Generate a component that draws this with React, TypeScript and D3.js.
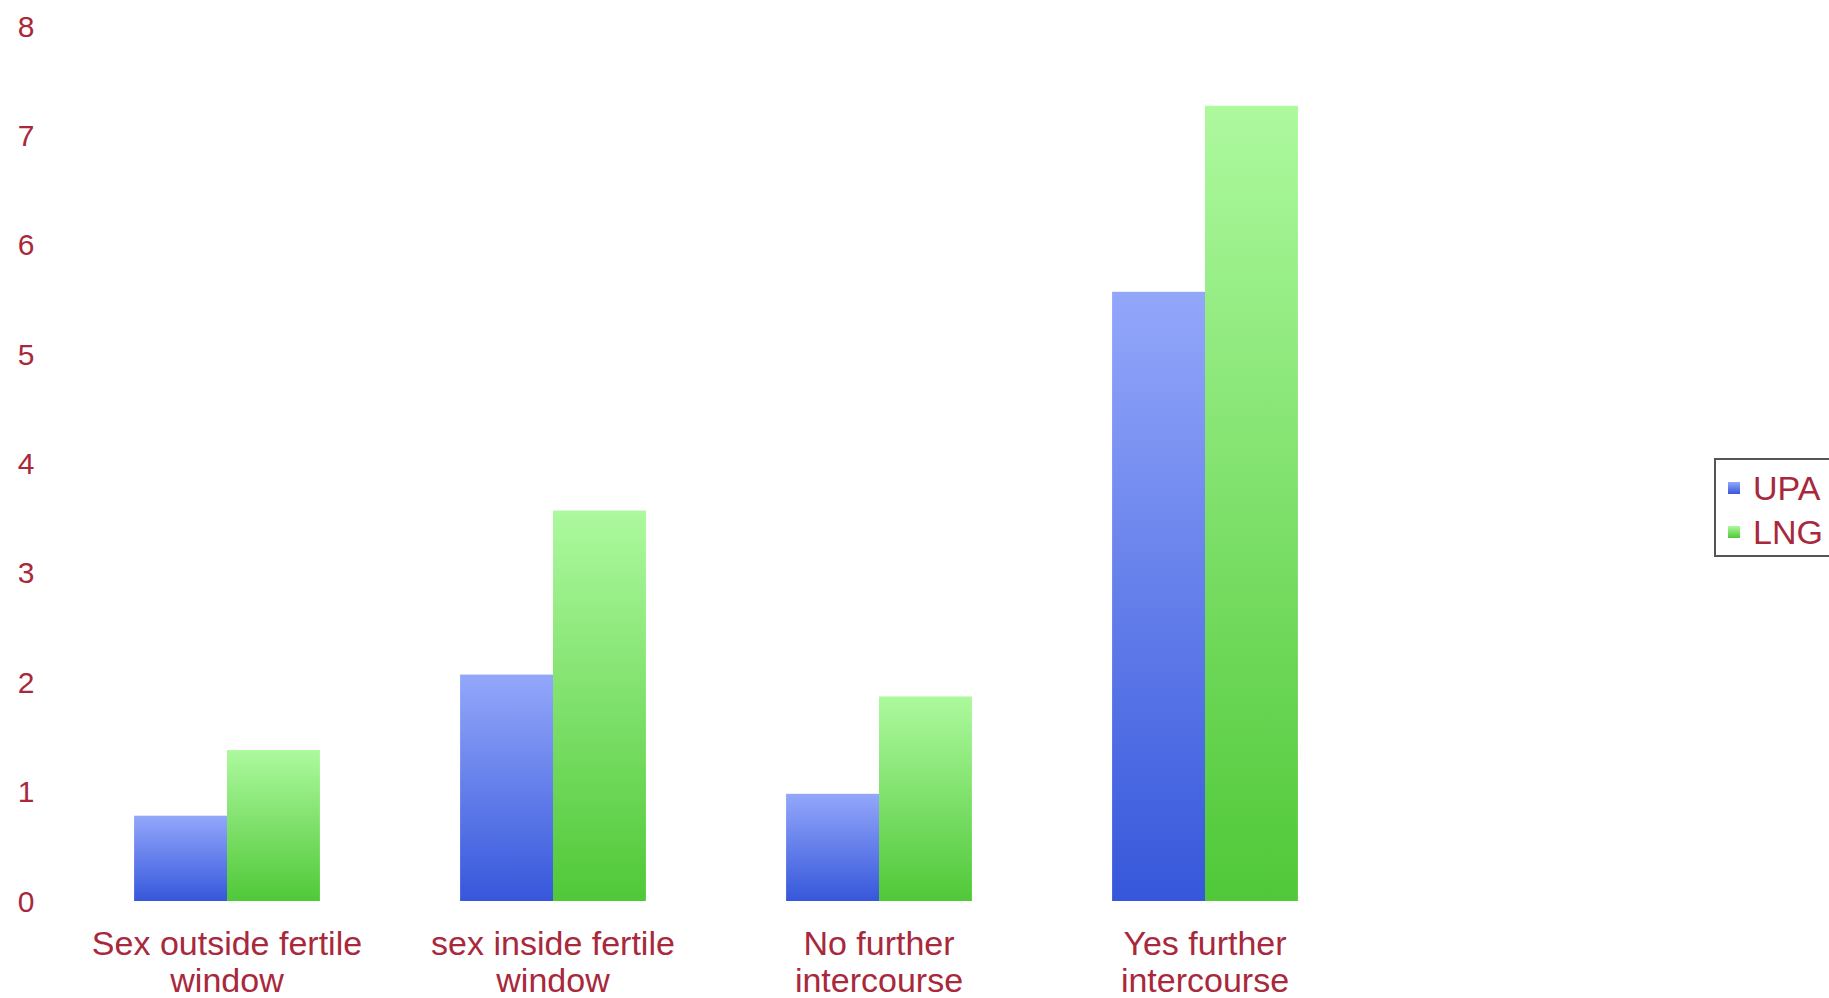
import React from 'react';
import * as d3 from 'd3';

const categories = [
  ['Sex outside fertile', 'window'],
  ['sex inside fertile', 'window'],
  ['No further', 'intercourse'],
  ['Yes further', 'intercourse'],
];
const seriesNames = ['UPA', 'LNG'];
const upaValues = [0.78, 2.07, 0.98, 5.57];
const lngValues = [1.38, 3.57, 1.87, 7.27];
const yTicks = [0, 1, 2, 3, 4, 5, 6, 7, 8];

const width = 1829;
const height = 998;
const textColor = '#a8283c';
const font = '"Liberation Sans", Arial, sans-serif';

const App: React.FC = () => {
  const x = d3.scaleBand<number>()
    .domain(categories.map((_, i) => i))
    .range([64, 1368])
    .paddingInner(0.43)
    .paddingOuter(0.215);

  const xInner = d3.scaleBand<string>()
    .domain(seriesNames)
    .range([0, x.bandwidth()]);

  const y = d3.scaleLinear()
    .domain([0, 8])
    .range([901, 26]);

  const values: Record<string, number[]> = { UPA: upaValues, LNG: lngValues };

  return (
    <svg
      width={width}
      height={height}
      style={{ position: 'absolute', left: 0, top: 0, background: '#fff' }}
      fontFamily={font}
    >
      <defs>
        <linearGradient id="grad-UPA" x1="0" y1="0" x2="0" y2="1">
          <stop offset="0%" stopColor="#93a7fa" />
          <stop offset="100%" stopColor="#3657db" />
        </linearGradient>
        <linearGradient id="grad-LNG" x1="0" y1="0" x2="0" y2="1">
          <stop offset="0%" stopColor="#adf99e" />
          <stop offset="100%" stopColor="#50c838" />
        </linearGradient>
      </defs>

      {/* y tick labels */}
      {yTicks.map(t => (
        <text
          key={t}
          x={26}
          y={y(t)}
          textAnchor="middle"
          dominantBaseline="central"
          fontSize={30}
          fill={textColor}
        >
          {t}
        </text>
      ))}

      {/* bars */}
      {categories.map((_, i) => (
        <g key={i} transform={`translate(${x(i)},0)`}>
          {seriesNames.map(s => (
            <rect
              key={s}
              x={xInner(s)}
              y={y(values[s][i])}
              width={xInner.bandwidth()}
              height={y(0) - y(values[s][i])}
              fill={`url(#grad-${s})`}
            />
          ))}
        </g>
      ))}

      {/* x labels */}
      {categories.map((lines, i) => (
        <text
          key={i}
          x={(x(i) as number) + x.bandwidth() / 2}
          y={955}
          textAnchor="middle"
          fontSize={34}
          fill={textColor}
        >
          {lines.map((l, j) => (
            <tspan key={j} x={(x(i) as number) + x.bandwidth() / 2} dy={j === 0 ? 0 : 37}>
              {l}
            </tspan>
          ))}
        </text>
      ))}

      {/* legend */}
      <g>
        <rect x={1715} y={459} width={120} height={97} fill="#fff" stroke="#555" strokeWidth={2} />
        {seriesNames.map((s, i) => (
          <g key={s} transform={`translate(1728,${482 + i * 44})`}>
            <rect x={0} y={0} width={12} height={12} fill={`url(#grad-${s})`} />
            <text x={25} y={18} fontSize={34} fill={textColor}>{s}</text>
          </g>
        ))}
      </g>
    </svg>
  );
};

export default App;
